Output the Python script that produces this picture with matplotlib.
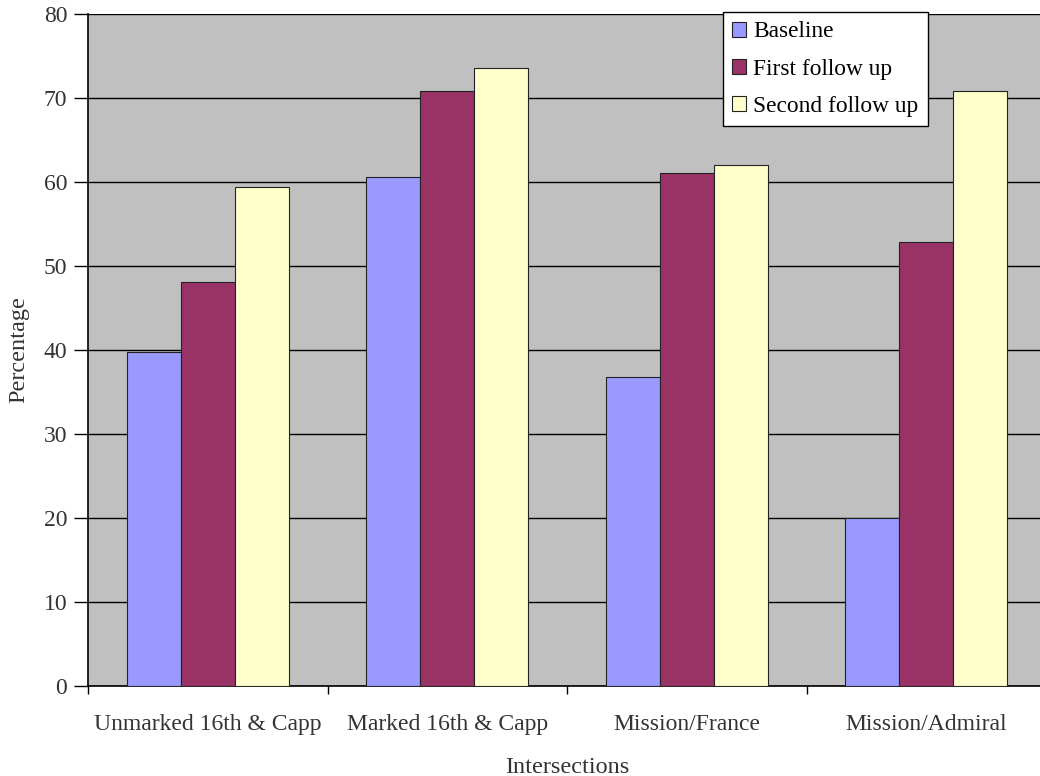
import matplotlib
matplotlib.use("Agg")
import matplotlib.pyplot as plt
import numpy as np

categories = ["Unmarked 16th & Capp", "Marked 16th & Capp", "Mission/France", "Mission/Admiral"]
series_names = ["Baseline", "First follow up", "Second follow up"]
baseline = [39.8, 60.6, 36.8, 20.0]
first_follow = [48.1, 70.8, 61.1, 52.9]
second_follow = [59.4, 73.6, 62.0, 70.8]
yticks = [0, 10, 20, 30, 40, 50, 60, 70, 80]

colors = ["#9999FF", "#993366", "#FFFFCC"]

plt.rcParams["font.family"] = ["Liberation Serif", "DejaVu Serif"]

fig = plt.figure(figsize=(10.4, 7.76), dpi=100)
ax = fig.add_axes([88 / 1040, 1 - 686 / 776, (1046 - 88) / 1040, (686 - 14) / 776])
ax.set_facecolor("#C0C0C0")

x = np.arange(len(categories))
width = 0.225
for i, (vals, name, col) in enumerate(zip([baseline, first_follow, second_follow], series_names, colors)):
    ax.bar(x + (i - 1) * width, vals, width, color=col, edgecolor="#222222",
           linewidth=0.8, label=name, zorder=3)

ax.set_xlim(-0.5, len(categories) - 0.5)
ax.set_ylim(0, 80)
ax.set_yticks(yticks)
ax.set_yticklabels([str(v) for v in yticks], fontsize=17, color="#333333")
ax.yaxis.grid(True, color="black", linewidth=1.0, zorder=0)
ax.set_axisbelow(True)

ax.set_xticks(np.arange(len(categories) + 1) - 0.5)
ax.set_xticklabels([])
ax.set_xticks(x, minor=True)
ax.set_xticklabels(categories, minor=True, fontsize=17, color="#333333")
ax.tick_params(axis="x", which="minor", length=0, pad=20)
ax.tick_params(axis="x", which="major", length=6, width=1, direction="out")
ax.tick_params(axis="y", length=10, width=1, direction="out", pad=5)

for side in ["top", "right"]:
    ax.spines[side].set_visible(False)
ax.spines["left"].set_linewidth(1.2)
ax.spines["bottom"].set_linewidth(1.2)

ax.set_ylabel("Percentage", fontsize=17.5, color="#333333", labelpad=10)
ax.set_xlabel("Intersections", fontsize=17.5, color="#333333", labelpad=16)

leg = ax.legend(loc="upper left", bbox_to_anchor=((723 - 88) / (1046 - 88), 1.003),
                fontsize=16.8, frameon=True, fancybox=False, edgecolor="black",
                handlelength=0.6, handleheight=0.6, handletextpad=0.3,
                labelspacing=0.7, borderpad=0.4, borderaxespad=0)
leg.get_frame().set_linewidth(1.0)
leg.get_frame().set_facecolor("white")
leg.get_frame().set_alpha(1)

fig.savefig("out.png", dpi=100)
